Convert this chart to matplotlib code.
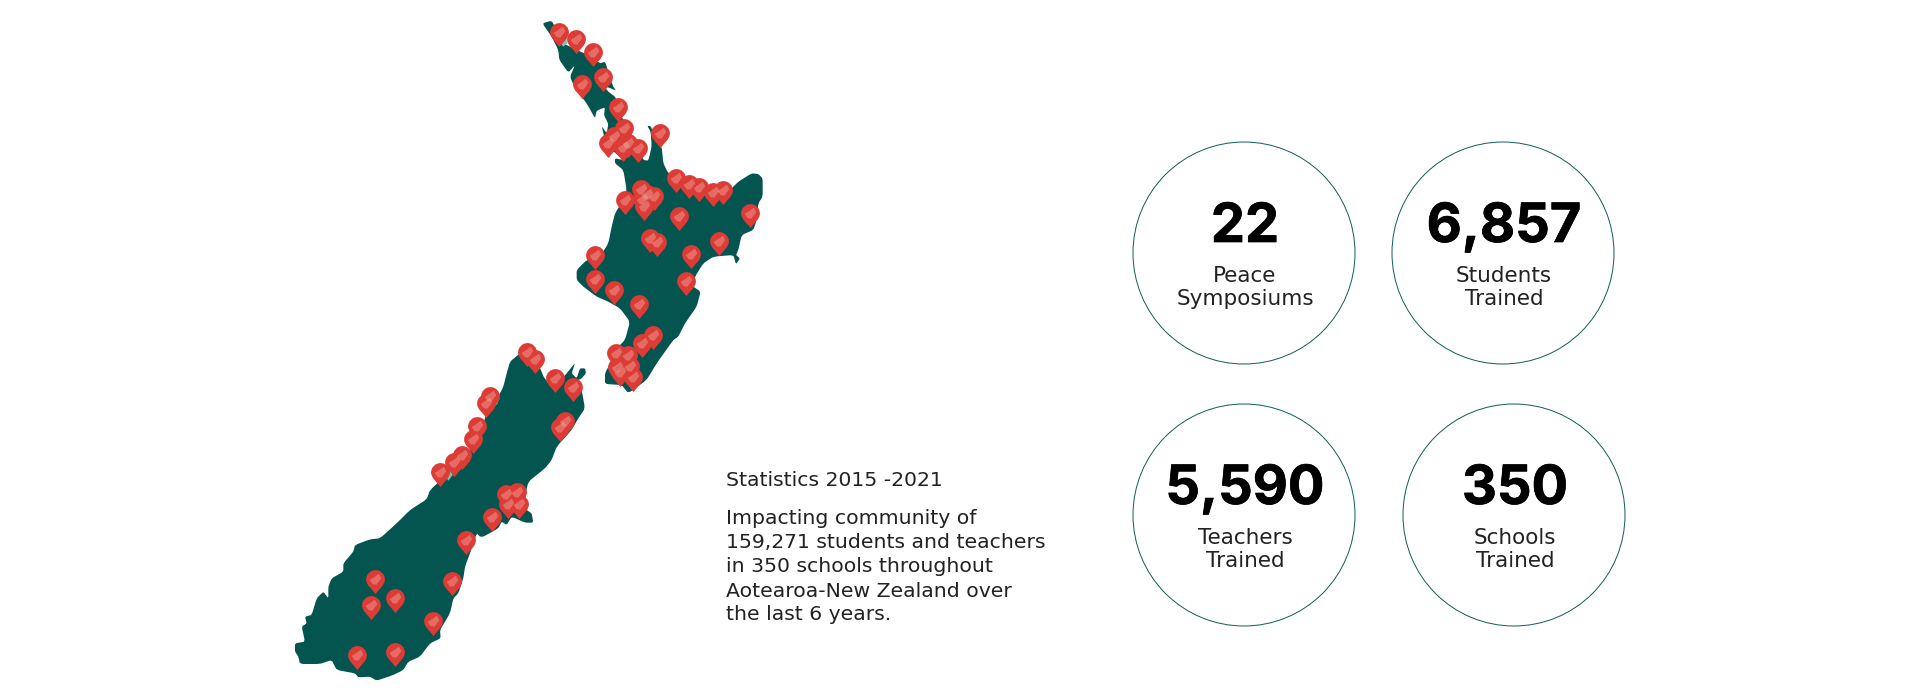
import matplotlib
matplotlib.use("Agg")
import matplotlib.pyplot as plt
import matplotlib.patheffects as pe
from matplotlib.path import Path
from matplotlib.patches import Circle, PathPatch, Polygon

# Colours
land_color = "#04544f"
pale_color = "#7cc4ae"
pin_color = "#dc3b36"
ring_color = "#0f5c55"
text_color = "#222222"

north_x = [787, 815, 830, 850, 890, 925, 960, 975, 985, 990, 1000, 1008, 985, 975, 985, 1005, 1020, 1020, 1035, 1050,
           1075, 1090, 1105, 1115, 1112, 1102, 1112, 1125, 1145, 1150, 1165, 1190, 1230, 1290, 1350, 1375, 1415, 1435,
           1448, 1448, 1435, 1430, 1420, 1385, 1375, 1368, 1380, 1368, 1360, 1300, 1270, 1245, 1240, 1262, 1250, 1215,
           1195, 1180, 1130, 1100, 1045, 1025, 975, 975, 990, 1005, 1035, 1050, 1020, 985, 950, 910, 890, 890, 920,
           960, 985, 995, 1005, 1030, 1040, 1030, 1005, 1005, 1030, 985, 975, 965, 980, 985, 972, 975, 950, 945, 920,
           885, 870, 885, 865, 838, 835, 815]
north_y = [70, 62, 90, 130, 150, 165, 190, 185, 215, 235, 260, 272, 262, 262, 275, 290, 320, 345, 365, 395,
           440, 480, 482, 440, 395, 378, 378, 410, 440, 490, 520, 530, 545, 565, 570, 545, 520, 522,
           535, 590, 610, 660, 690, 705, 750, 765, 775, 793, 765, 770, 790, 830, 860, 875, 920, 970,
           1010, 1020, 1090, 1140, 1180, 1155, 1152, 1120, 1090, 1050, 1020, 965, 925, 905, 890, 860, 840, 810, 780,
           770, 730, 680, 640, 600, 570, 510, 490, 475, 480, 440, 420, 378, 400, 372, 345, 322, 332, 355, 310,
           265, 230, 195, 218, 180, 150, 110]
south_x = [690, 720, 770, 795, 830, 860, 880, 885, 875, 890, 900, 915, 918, 905, 895, 905, 915, 895, 875, 830, 815,
           795, 745, 735, 740, 755, 760, 735, 695, 680, 665, 655, 610, 600, 590, 570, 555, 550, 535, 520, 510, 480,
           482, 450, 420, 385, 370, 340, 290, 270, 235, 225, 170, 155, 120, 60, 55, 45, 45, 75, 65, 80, 75, 95, 110,
           130, 145, 145, 155, 190, 190, 220, 225, 270, 300, 350, 390, 440, 450, 510, 560, 600, 620, 655, 670, 680]
south_y = [65, 40, 60, 120, 135, 100, 75, 70, 100, 115, 85, 85, 100, 115, 120, 150, 205, 235, 270, 320, 360,
           385, 425, 470, 510, 520, 548, 548, 530, 555, 545, 565, 590, 590, 580, 640, 680, 715, 760, 775, 820, 870,
           895, 910, 950, 965, 990, 1005, 1022, 1010, 1012, 1000, 990, 960, 972, 972, 950, 935, 910, 905, 860, 850,
           830, 825, 775, 755, 775, 740, 715, 695, 670, 635, 615, 598, 595, 550, 510, 478, 450, 395, 340, 290, 215, 170,
           140, 100]

# Pale slivers showing on the coast
pale_top_x = [[838, 858, 862, 850]]
pale_top_y = [[125, 105, 130, 140]]
pale_low_x = [[498, 512, 522, 505], [642, 660, 652, 640]]
pale_low_y = [[412, 388, 400, 422], [192, 170, 192, 200]]

# Pin heads
north_pin_x = [838, 888, 940, 969, 906, 1014, 1033, 1003, 985, 1045, 1028, 1073, 1141, 1188, 1228, 1258, 1298, 1330,
               1082, 1100, 1122, 1085, 1092, 1036, 1197, 1410, 1110, 1130, 1318, 1233, 945, 944, 1002, 1217, 1077]
north_pin_y = [95, 117, 157, 232, 252, 321, 385, 407, 429, 429, 442, 444, 399, 535, 552, 560, 577, 569,
               567, 582, 587, 597, 617, 600, 647, 639, 714, 727, 722, 762, 765, 837, 869, 842, 912]
south_pin_x = [1118, 1087, 740, 765, 825, 880, 1008, 1045, 1050, 1010, 1020, 1058, 630, 618, 590, 578, 545, 522, 480,
               855, 840, 678, 712, 685, 718, 635, 558, 285, 344, 272, 515, 459, 231, 344]
south_pin_y = [-15, 9, 37, 57, 115, 140, 39, 45, 77, 82, 97, 110, 169, 189, 259, 297, 344, 367, 397,
               244, 262, 462, 455, 492, 492, 530, 599, 717, 775, 795, 724, 843, 946, 937]

# Stat circles
stat_values = ["22", "6,857", "5,590", "350"]
stat_line1 = ["Peace", "Students", "Teachers", "Schools"]
stat_line2 = ["Symposiums", "Trained", "Trained", "Trained"]
stat_cx = [1244, 1503, 1244, 1514]
stat_cy = [253, 253, 515, 515]
stat_radius = 111

intro_head = "Statistics 2015 -2021"
intro_lines = ["Impacting community of", "159,271 students and teachers", "in 350 schools throughout",
               "Aotearoa-New Zealand over", "the last 6 years."]
intro_baselines = [524, 548, 572, 597, 620]


def top_crop(xs, ys):
    return [280 + v / 3 for v in xs], [v / 3 for v in ys]


def low_crop(xs, ys):
    return [280 + v / 3 for v in xs], [340 + v / 3 for v in ys]


# closed outline with the corners rounded off a little
def rounded_path(xs, ys, cut=0.22):
    n = len(xs)
    verts, codes = [], []
    for i in range(n):
        x0, y0 = xs[i - 1], ys[i - 1]
        x1, y1 = xs[i], ys[i]
        x2, y2 = xs[(i + 1) % n], ys[(i + 1) % n]
        before = (x1 + (x0 - x1) * cut, y1 + (y0 - y1) * cut)
        after = (x1 + (x2 - x1) * cut, y1 + (y2 - y1) * cut)
        verts += [before, (x1, y1), after]
        codes += [Path.MOVETO if i == 0 else Path.LINETO, Path.CURVE3, Path.CURVE3]
    verts.append(verts[0])
    codes.append(Path.CLOSEPOLY)
    return Path(verts, codes)


fig = plt.figure(figsize=(19.2, 7), dpi=100, facecolor="white")
ax = fig.add_axes([0, 0, 1, 1])
ax.set_xlim(0, 1920)
ax.set_ylim(700, 0)
ax.axis("off")
plt.rcParams["font.family"] = ["DejaVu Sans"]

# land
nx, ny = top_crop(north_x, north_y)
sx, sy = low_crop(south_x, south_y)
ax.add_patch(PathPatch(rounded_path(nx, ny), fc=land_color, ec="none", zorder=2))
ax.add_patch(PathPatch(rounded_path(sx, sy), fc=land_color, ec="none", zorder=2))
for xs, ys in zip(pale_top_x, pale_top_y):
    a, b = top_crop(xs, ys)
    ax.add_patch(Polygon(list(zip(a, b)), closed=True, fc=pale_color, ec="none", zorder=3))
for xs, ys in zip(pale_low_x, pale_low_y):
    a, b = low_crop(xs, ys)
    ax.add_patch(Polygon(list(zip(a, b)), closed=True, fc=pale_color, ec="none", zorder=3))

# teardrop pin, head radius 1, tip straight down
k = 0.5523
pin_verts = [(0, -1.55), (-0.35, -1.05), (-1, -0.6), (-1, 0), (-1, k), (-k, 1), (0, 1), (k, 1), (1, k), (1, 0),
             (1, -0.6), (0.35, -1.05), (0, -1.55), (0, -1.55)]
pin_codes = [Path.MOVETO, Path.CURVE4, Path.CURVE4, Path.CURVE4, Path.CURVE4, Path.CURVE4, Path.CURVE4, Path.CURVE4,
             Path.CURVE4, Path.CURVE4, Path.CURVE4, Path.CURVE4, Path.CURVE4, Path.CLOSEPOLY]
pin_path = Path(pin_verts, pin_codes)
# small pale blob inside the head; the last two points keep it at the pin's scale
blob_verts = [(-0.62, -0.05), (-0.1, 0.28), (0.35, 0.62), (0.62, 0.15), (0.1, -0.55), (-0.3, -0.5), (-0.62, -0.05),
              (-1.55, -1.55), (1.55, 1.55)]
blob_codes = [Path.MOVETO, Path.LINETO, Path.LINETO, Path.LINETO, Path.LINETO, Path.LINETO, Path.CLOSEPOLY,
              Path.MOVETO, Path.MOVETO]
blob_path = Path(blob_verts, blob_codes)

px, py = [], []
for xs, ys, crop in [(north_pin_x, north_pin_y, top_crop), (south_pin_x, south_pin_y, low_crop)]:
    a, b = crop(xs, ys)
    px += a
    py += b
pin_size = 440
ax.scatter(px, py, s=pin_size, marker=pin_path, color=pin_color, linewidths=0, zorder=5)
ax.scatter(px, py, s=pin_size, marker=blob_path, color="#f0a9a0", alpha=0.45, linewidths=0, zorder=6)

# circles and their text
heavy = [pe.withStroke(linewidth=0.5, foreground="black")]
for i in range(len(stat_values)):
    ax.add_patch(Circle((stat_cx[i], stat_cy[i]), stat_radius, fc="none", ec=ring_color, lw=0.7, zorder=2))
    ax.text(stat_cx[i] + 1, stat_cy[i] - 11, stat_values[i], ha="center", va="baseline", fontsize=39,
            fontfamily=["Inter", "DejaVu Sans"], fontweight="bold", color="black", path_effects=heavy)
    ax.text(stat_cx[i] + 1, stat_cy[i] + 29, stat_line1[i], ha="center", va="baseline", fontsize=15.5, color=text_color)
    ax.text(stat_cx[i] + 1, stat_cy[i] + 52, stat_line2[i], ha="center", va="baseline", fontsize=15.5, color=text_color)

ax.text(726, 486, intro_head, ha="left", va="baseline", fontsize=14.7, color=text_color)
for line, base in zip(intro_lines, intro_baselines):
    ax.text(726, base, line, ha="left", va="baseline", fontsize=14.7, color=text_color)

fig.savefig("out.png", dpi=100, facecolor="white")
